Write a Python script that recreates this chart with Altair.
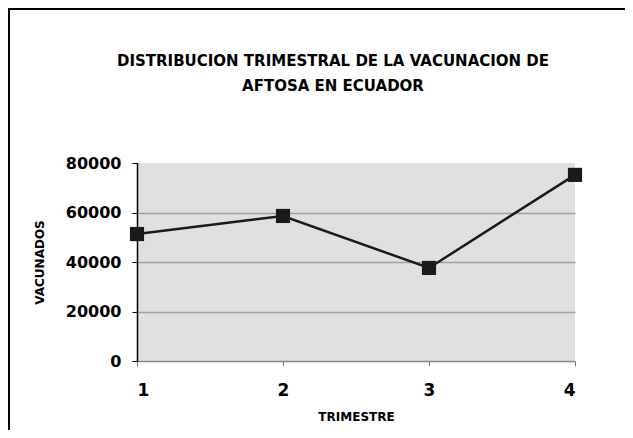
import altair as alt
import pandas as pd

trimestre = [1, 2, 3, 4]
vacunados = [51300, 58600, 37600, 75200]
y_ticks = [0, 20000, 40000, 60000, 80000]
x_ticks = [1, 2, 3, 4]
title_lines = ["DISTRIBUCION TRIMESTRAL DE LA VACUNACION DE", "AFTOSA EN ECUADOR"]

df = pd.DataFrame({"TRIMESTRE": trimestre, "VACUNADOS": vacunados})

FONT = "DejaVu Sans"

x_enc = alt.X(
    "TRIMESTRE:Q",
    scale=alt.Scale(domain=[1, 4], nice=False, zero=False),
    axis=alt.Axis(
        values=x_ticks, format="d", title="TRIMESTRE", grid=False,
        domainColor="#888888", domainWidth=1.5, tickColor="#777777", tickSize=5,
        labelFont=FONT, labelFontWeight="bold", labelFontSize=17, labelColor="black",
        labelPadding=16, titleFont=FONT, titleFontWeight="bold", titleFontSize=12,
        titlePadding=13, titleColor="black",
    ),
)
y_enc = alt.Y(
    "VACUNADOS:Q",
    scale=alt.Scale(domain=[0, 80000], nice=False),
    axis=alt.Axis(
        values=y_ticks, format="d", title="VACUNADOS",
        grid=True, gridColor=alt.expr("datum.value == 80000 || datum.value == 0 ? 'transparent' : '#a0a0a0'"),
        gridWidth=1.5,
        domainColor="black", domainWidth=1.5, tickColor="black", tickSize=5,
        labelFont=FONT, labelFontWeight="bold", labelFontSize=16, labelColor="black",
        labelPadding=11, titleFont=FONT, titleFontWeight="bold", titleFontSize=12,
        titlePadding=19, titleColor="black",
    ),
)

line = alt.Chart(df).mark_line(color="#1a1a1a", strokeWidth=2.5).encode(x=x_enc, y=y_enc)
pts = alt.Chart(df).mark_point(shape="square", filled=True, size=200, color="#1a1a1a", opacity=1).encode(
    x="TRIMESTRE:Q", y="VACUNADOS:Q"
)

frame_left = alt.Chart(df).mark_rule(color="black", strokeWidth=2).encode(
    x=alt.value(-128), y=alt.value(-155), y2=alt.value(300)
)
frame_top = alt.Chart(df).mark_rule(color="black", strokeWidth=2).encode(
    x=alt.value(-128), x2=alt.value(500), y=alt.value(-154)
)

chart = alt.layer(line, pts, frame_left, frame_top).properties(
    width=438,
    height=198,
    title=alt.TitleParams(
        text=title_lines, font=FONT, fontWeight="bold", fontSize=15, color="black",
        anchor="middle", lineHeight=25, offset=-87, dx=-23,
    ),
    autosize=alt.AutoSizeParams(type="none"),
    padding={"left": 129, "top": 155, "right": 50, "bottom": 69},
    background="white",
).configure_view(fill="#e0e0e0", stroke=None)

chart.save("out.html", embed_options={"renderer": "svg", "actions": False})
